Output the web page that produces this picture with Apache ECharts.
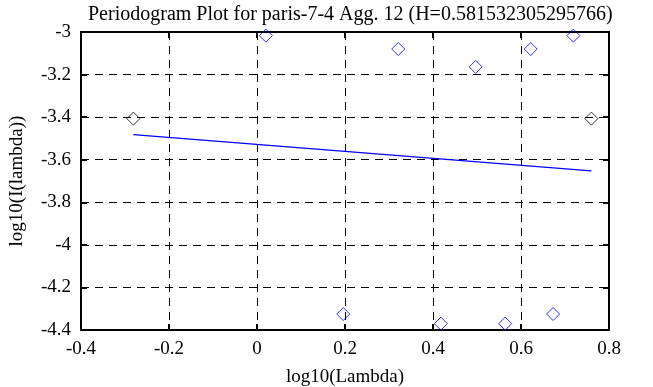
<!DOCTYPE html>
<html>
<head>
<meta charset="utf-8">
<script src="https://cdn.jsdelivr.net/npm/echarts@6/dist/echarts.min.js"></script>
<style>
html,body{margin:0;padding:0;background:#fff;}
#c{width:653px;height:387px;}
</style>
</head>
<body>
<div id="c"></div>
<script>
var titleText = 'Periodogram Plot for paris-7-4 Agg. 12 (H=0.581532305295766)';
var xName = 'log10(Lambda)';
var yName = 'log10(I(lambda))';
var logLambda = [-0.281, 0.020, 0.196, 0.321, 0.418, 0.497, 0.564, 0.622, 0.673, 0.719, 0.760];
var logI = [-3.407, -3.017, -4.325, -3.080, -4.370, -3.164, -4.370, -3.080, -4.325, -3.017, -3.407];
var excludedIdx = [0, 10];
var fitX = [-0.281, 0.760];
var fitY = [-3.482, -3.652];

var FONT = '"Liberation Serif", "DejaVu Serif", serif';
var usedPts = [], exclPts = [];
for (var i = 0; i < logLambda.length; i++) {
  if (excludedIdx.indexOf(i) >= 0) exclPts.push([logLambda[i], logI[i]]);
  else usedPts.push([logLambda[i], logI[i]]);
}
var fitPts = fitX.map(function (x, i) { return [x, fitY[i]]; });

var chart = echarts.init(document.getElementById('c'), null, {renderer: 'canvas'});
var axisCommon = {
  axisLine: {show: true, onZero: false, lineStyle: {color: '#000', width: 2}},
  axisTick: {show: true, inside: true, length: 6, lineStyle: {color: '#000', width: 2}},
  splitLine: {show: false}
};
chart.setOption({
  animation: false,
  backgroundColor: '#fff',
  title: {
    text: titleText, left: 83, top: 0,
    textStyle: {fontFamily: FONT, fontSize: 20, fontWeight: 'normal', color: '#000'}
  },
  grid: {left: 81, top: 32, right: 44, bottom: 57, containLabel: false, outerBoundsMode: 'none'},
  xAxis: [
    Object.assign({}, axisCommon, {
      type: 'value', min: -0.4, max: 0.8, interval: 0.2, position: 'bottom',
      name: xName, nameLocation: 'middle', nameGap: 38,
      nameTextStyle: {fontFamily: FONT, fontSize: 19, color: '#000'},
      axisLabel: {fontFamily: FONT, fontSize: 19, color: '#000', margin: 10,
        formatter: function (v) { return String(Math.round(v * 10) / 10); }},
      splitLine: {show: true, lineStyle: {color: '#000', type: [8, 6], width: 1}}
    }),
    Object.assign({}, axisCommon, {
      type: 'value', min: -0.4, max: 0.8, interval: 0.2, position: 'top',
      axisLabel: {show: false}
    })
  ],
  yAxis: [
    Object.assign({}, axisCommon, {
      type: 'value', min: -4.4, max: -3, interval: 0.2, position: 'left',
      name: yName, nameLocation: 'middle', nameGap: 54, nameRotate: 90,
      nameTextStyle: {fontFamily: FONT, fontSize: 19, color: '#000'},
      axisLabel: {fontFamily: FONT, fontSize: 19, color: '#000', margin: 10,
        formatter: function (v) { return String(Math.round(v * 10) / 10); }},
      splitLine: {show: true, lineStyle: {color: '#000', type: [8, 6], width: 1}}
    }),
    Object.assign({}, axisCommon, {
      type: 'value', min: -4.4, max: -3, interval: 0.2, position: 'right',
      axisLabel: {show: false}
    })
  ],
  series: [
    {
      type: 'line', data: fitPts, symbol: 'none', silent: true,
      lineStyle: {color: '#0000ff', width: 1.3}, z: 3
    },
    {
      type: 'scatter', data: usedPts, symbol: 'diamond', symbolSize: [13, 13],
      itemStyle: {color: 'transparent', borderColor: '#0000ff', borderWidth: 1}, z: 4
    },
    {
      type: 'scatter', data: exclPts, symbol: 'diamond', symbolSize: [13, 13],
      itemStyle: {color: 'transparent', borderColor: '#000', borderWidth: 1}, z: 4
    }
  ]
});
</script>
</body>
</html>
